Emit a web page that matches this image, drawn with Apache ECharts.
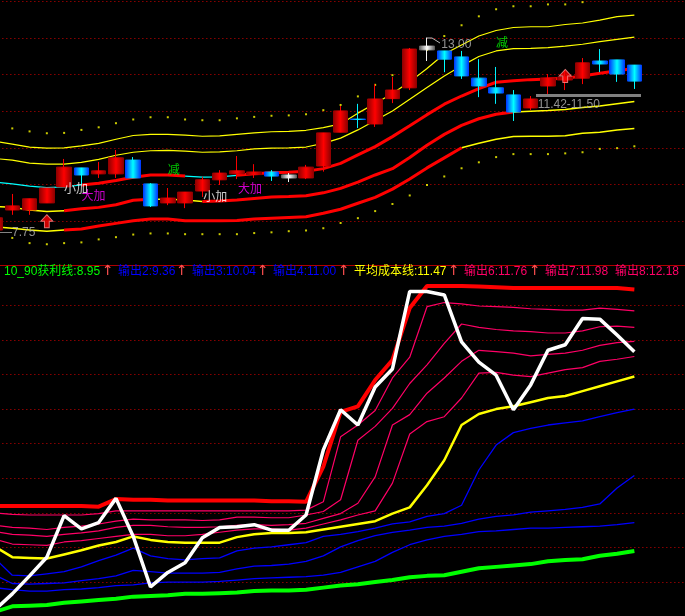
<!DOCTYPE html>
<html><head><meta charset="utf-8">
<style>html,body{margin:0;padding:0;background:#000}#c{width:685px;height:616px}</style>
<script src="https://cdn.jsdelivr.net/npm/echarts@6/dist/echarts.min.js"></script>
</head><body><div id="c"></div>
<script>
// ---- price panel ----
const opens =[7.83,8.37,8.37,8.56,8.99,9.50,9.34,9.34,9.71,9.07,8.56,8.56,8.88,9.18,9.34,9.32,9.39,9.31,9.23,9.55,10.46,10.81,10.68,11.36,11.65,12.67,12.64,12.48,11.91,11.65,11.46,11.11,11.70,11.86,11.91,12.37,12.40,12.26];
const closes=[8.16,8.48,8.67,8.96,9.52,9.31,9.42,9.77,9.23,8.48,8.69,8.85,9.18,9.36,9.42,9.39,9.28,9.23,9.52,10.44,11.03,10.80,11.35,11.59,12.69,12.77,12.42,11.97,11.70,11.51,11.00,11.35,11.91,11.94,12.32,12.29,12.02,11.83];
const lows  =[7.75,8.24,8.24,8.56,8.99,9.04,9.23,9.23,9.23,8.45,8.50,8.42,8.72,9.04,9.20,9.23,9.15,9.12,9.20,9.40,10.46,10.57,10.60,11.24,11.59,12.37,12.07,11.89,11.40,11.22,10.76,11.05,11.48,11.59,11.75,12.07,11.81,11.62];
const highs =[8.21,8.80,8.67,8.96,9.74,9.50,9.66,9.98,9.79,9.09,8.96,8.85,9.26,9.44,9.82,9.60,9.44,9.36,9.58,10.44,11.16,11.22,11.75,11.94,12.72,13.00,12.64,12.64,12.42,12.21,11.59,11.43,12.02,12.13,12.45,12.69,12.40,12.26];
const bandA=[10.21,10.14,10.06,10.03,10.04,10.09,10.16,10.27,10.37,10.40,10.40,10.38,10.35,10.36,10.40,10.44,10.47,10.48,10.51,10.58,10.68,10.97,11.23,11.50,11.81,12.17,12.56,12.80,13.04,13.19,13.27,13.29,13.29,13.35,13.39,13.47,13.56,13.60];
const bandB=[9.75,9.71,9.63,9.60,9.60,9.65,9.73,9.84,9.92,9.96,9.97,9.95,9.92,9.93,9.96,10.01,10.03,10.04,10.06,10.16,10.30,10.52,10.77,11.03,11.34,11.66,11.97,12.24,12.49,12.64,12.70,12.71,12.73,12.77,12.82,12.89,12.95,13.01];
const bandC=[9.12,9.07,9.01,8.97,8.99,9.04,9.09,9.16,9.25,9.31,9.31,9.28,9.25,9.26,9.30,9.34,9.37,9.38,9.41,9.48,9.62,9.85,10.07,10.34,10.63,10.93,11.21,11.43,11.63,11.80,11.84,11.87,11.89,11.91,11.97,12.04,12.11,12.17];
const bandD=[8.46,8.44,8.37,8.33,8.35,8.40,8.44,8.51,8.63,8.66,8.66,8.64,8.60,8.61,8.64,8.68,8.72,8.73,8.75,8.83,8.95,9.12,9.31,9.48,9.78,10.11,10.40,10.64,10.82,10.94,11.00,11.02,11.04,11.07,11.12,11.16,11.22,11.28];
const bandE=[7.92,7.88,7.83,7.80,7.83,7.86,7.94,8.01,8.08,8.13,8.13,8.08,8.08,8.08,8.09,8.13,8.15,8.17,8.19,8.28,8.39,8.55,8.71,8.93,9.20,9.50,9.77,10.04,10.16,10.27,10.34,10.35,10.35,10.36,10.43,10.46,10.52,10.56];
const dotsUp=[null,10.56,10.48,10.43,10.44,10.52,10.59,10.70,10.80,10.86,10.86,10.80,10.78,10.78,10.83,10.87,10.90,10.91,10.94,11.05,11.19,11.42,11.73,11.99,12.29,12.67,13.04,13.33,13.57,13.76,13.84,13.84,13.89,13.89,13.95,null,null,null];
const dotsDn=[null,7.62,7.48,7.45,7.48,7.50,7.58,7.64,7.71,7.74,7.74,7.72,7.72,7.72,7.72,7.75,7.77,7.80,7.82,7.88,8.02,8.15,8.34,8.53,8.76,9.04,9.27,9.49,9.65,9.79,9.87,9.87,9.87,9.89,9.92,10.01,10.03,10.08];
const annoIdx  =[4,5,10,12,14,29,26,0,31];
const annoPrice=[8.91,8.72,9.42,8.69,8.91,12.83,12.80,7.75,11.19];
const annoText =['小加','大加','减','小加','大加','减','13.00','—7.75','11.42-11.50'];
const annoColor=['#ffffff','#ff00ff','#00ff00','#ffffff','#ff00ff','#00ff00','#b8b8b8','#b8b8b8','#b8b8b8'];
const annoGap  =[0,0,0,1,1,0,-3,5,7];
const arrowIdx=[3,33], arrowPrice=[8.07,11.97];
// ---- indicator panel ----
const profit10=[8.07,8.15,8.16,8.17,8.20,8.22,8.24,8.26,8.29,8.30,8.31,8.33,8.33,8.34,8.35,8.37,8.38,8.38,8.39,8.42,8.45,8.47,8.50,8.53,8.57,8.59,8.60,8.65,8.70,8.72,8.74,8.76,8.80,8.82,8.83,8.88,8.91,8.95];
const out2=[8.42,8.39,8.37,8.37,8.39,8.40,8.42,8.45,8.46,8.49,8.50,8.50,8.50,8.51,8.53,8.55,8.56,8.57,8.58,8.60,8.64,8.72,8.80,8.93,9.04,9.11,9.16,9.19,9.23,9.24,9.26,9.28,9.28,9.29,9.30,9.31,9.33,9.36];
const out3=[8.60,8.48,8.47,8.48,8.49,8.52,8.55,8.59,8.67,8.65,8.63,8.63,8.63,8.64,8.69,8.73,8.74,8.76,8.80,8.88,9.01,9.10,9.17,9.22,9.25,9.29,9.31,9.35,9.41,9.45,9.47,9.51,9.53,9.55,9.58,9.63,9.86,10.04];
const out4=[8.84,8.60,8.59,8.62,8.65,8.72,8.81,8.89,8.99,8.88,8.84,8.82,8.84,8.85,8.95,8.99,9.01,9.04,9.07,9.16,9.19,9.23,9.28,9.34,9.37,9.45,9.49,9.61,10.12,10.48,10.66,10.72,10.77,10.80,10.83,10.89,10.95,11.00];
const avgCost=[9.01,8.86,8.85,8.84,8.90,8.96,9.03,9.08,9.16,9.11,9.08,9.07,9.07,9.07,9.15,9.19,9.21,9.21,9.22,9.26,9.30,9.34,9.38,9.49,9.58,9.90,10.26,10.77,10.93,11.00,11.04,11.10,11.16,11.19,11.26,11.33,11.40,11.47];
const out6=[9.12,9.05,9.04,9.03,9.08,9.10,9.13,9.16,9.19,9.19,9.17,9.17,9.19,9.22,9.25,9.27,9.27,9.25,9.28,9.34,9.40,9.47,9.53,9.93,10.64,10.82,10.89,11.16,11.52,11.53,11.49,11.47,11.52,11.57,11.60,11.69,11.72,11.76];
const out7=[9.23,9.19,9.18,9.16,9.19,9.21,9.24,9.29,9.32,9.32,9.30,9.29,9.29,9.30,9.32,9.33,9.32,9.33,9.35,9.42,9.49,9.64,10.02,10.77,10.92,11.23,11.45,11.69,11.85,11.83,11.81,11.77,11.79,11.81,11.85,11.92,11.96,11.98];
const out8=[9.32,9.29,9.28,9.26,9.29,9.31,9.34,9.38,9.41,9.40,9.40,9.40,9.39,9.40,9.44,9.44,9.43,9.43,9.47,9.52,9.69,10.55,10.75,11.01,11.37,11.64,11.95,12.23,12.18,12.15,12.13,12.12,12.10,12.10,12.13,12.19,12.20,12.18];
const out9=[9.50,9.48,9.47,9.47,9.47,9.47,9.49,9.53,9.53,9.53,9.53,9.53,9.53,9.53,9.53,9.53,9.53,9.53,9.54,9.66,10.60,10.77,10.98,11.45,11.75,12.48,12.54,12.52,12.49,12.48,12.47,12.45,12.44,12.43,12.43,12.46,12.44,12.42];
const out10=[9.60,9.60,9.60,9.60,9.60,9.60,9.59,9.70,9.69,9.69,9.68,9.68,9.68,9.68,9.68,9.68,9.67,9.67,9.66,10.17,10.96,11.04,11.42,11.71,12.46,12.78,12.78,12.78,12.77,12.76,12.75,12.75,12.75,12.75,12.75,12.75,12.75,12.73];
const mainLine=[8.10,8.33,8.59,8.86,9.46,9.27,9.36,9.71,9.16,8.43,8.64,8.78,9.14,9.29,9.30,9.33,9.25,9.25,9.47,10.41,10.99,10.77,11.32,11.58,12.70,12.70,12.65,11.97,11.68,11.49,10.99,11.35,11.85,11.93,12.31,12.30,12.07,11.83];
const headLabels=['10_90获利线:8.95','输出2:9.36','输出3:10.04','输出4:11.00','平均成本线:11.47','输出6:11.76','输出7:11.98','输出8:12.18'];
const headColors=['#00ff00','#0000ff','#0000ff','#0000ff','#ffff00','#ff0066','#ff0066','#ff0066'];
const headX=[4,118,192,273,354,464,545,615];
const headArrowX=[106,180,261,342,452,533];
const slotCount=41;
const categories=Array.from({length:slotCount},(_,i)=>String(i));

const G=echarts.graphic.LinearGradient;
const hGrad=(e,m)=>new G(0,0,1,0,[{offset:0,color:e},{offset:.5,color:m},{offset:1,color:e}]);
const RED=hGrad('#8a0000','#ff0000'), BLUE=hGrad('#0030ff','#00ffff'), WHITE=hGrad('#555555','#ffffff');
const WHITE_IDX=[17,25];
const pick=(arr,ranges)=>arr.map((v,i)=>ranges.some(r=>i>=r[0]&&i<=r[1])?v:null);
const line=(name,data,color,width,gi,z)=>({name,type:'line',data,xAxisIndex:gi,yAxisIndex:gi,showSymbol:false,symbol:'none',
  lineStyle:{color,width},itemStyle:{color},z:z||3,animation:false,silent:true,connectNulls:false});
const TOPGRID=0,BOT=2;
const Y='#ffff00',R='#ff0000',CY='#00ffff',PK='#ff0066',BL='#0000ff';

const candleData=opens.map((o,i)=>{
  const d={value:[o,closes[i],lows[i],highs[i]]};
  if(WHITE_IDX.includes(i)) d.itemStyle={color:WHITE,color0:WHITE,borderColor:WHITE,borderColor0:WHITE,borderColorDoji:WHITE};
  return d;
});
const hiddenY=(o)=>Object.assign({type:'value',axisLine:{show:false},axisTick:{show:false},axisLabel:{show:false},splitLine:{show:false}},o);
const dotted={show:true,showMinLine:false,showMaxLine:false,lineStyle:{color:'#d00000',width:1,type:[1,3]}};

const texts=[];
headLabels.forEach((t,i)=>texts.push({type:'text',left:headX[i],top:266,z:10,style:{text:t,fill:headColors[i],font:'12px "Liberation Sans","Noto Sans CJK SC"'}}));
headArrowX.forEach(x=>texts.push({type:'text',left:x-4,top:264,z:10,style:{text:'↑',fill:'#ff5050',font:'14px "DejaVu Sans"'}}));

const chart=echarts.init(document.getElementById('c'),null,{renderer:'canvas'});
chart.setOption({
  backgroundColor:'#000',animation:false,
  grid:[
    {left:-13.64,width:708.48,top:0.3,height:260.7,outerBoundsMode:'none'},
    {left:-13.64,width:708.48,top:1.3,height:256.7,outerBoundsMode:'none'},
    {left:-13.64,width:708.48,top:270.7,height:346,outerBoundsMode:'none'}
  ],
  xAxis:[0,1,2].map(g=>({type:'category',gridIndex:g,data:categories,show:false,boundaryGap:true})),
  yAxis:[
    hiddenY({gridIndex:0,min:7,max:14}),
    hiddenY({gridIndex:1,min:0,max:7,interval:1,splitLine:Object.assign({},dotted,{showMaxLine:true})}),
    hiddenY({gridIndex:2,min:8,max:13,interval:.5,splitLine:dotted})
  ],
  graphic:[
    {type:'rect',shape:{x:0,y:265,width:685,height:1},style:{fill:'#b00000'},z:9},
    {type:'rect',shape:{x:536,y:94,width:105,height:3},style:{fill:'#808080'},z:9},
    {type:'polyline',shape:{points:[[427,38],[432,38],[440,43]]},style:{stroke:'#b8b8b8',fill:null,lineWidth:1},z:9}
  ].concat(texts),
  series:[
    line('A',bandA,Y,1.2,TOPGRID),
    line('B',bandB,Y,1.2,TOPGRID),
    line('C-a',pick(bandC,[[0,5],[11,14]]),CY,1.2,TOPGRID),
    line('C-b',pick(bandC,[[5,11],[14,37]]),R,3,TOPGRID),
    line('D-a',pick(bandD,[[0,4],[9,12],[30,37]]),Y,1.5,TOPGRID),
    line('D-b',pick(bandD,[[4,9],[12,30]]),R,3,TOPGRID),
    line('E-a',pick(bandE,[[0,4],[27,37]]),Y,1.5,TOPGRID),
    line('E-b',pick(bandE,[[4,27]]),R,3,TOPGRID),
    {name:'dotsUp',type:'scatter',data:dotsUp,xAxisIndex:0,yAxisIndex:0,symbol:'rect',symbolSize:2,itemStyle:{color:Y},z:3,silent:true},
    {name:'dotsDn',type:'scatter',data:dotsDn,xAxisIndex:0,yAxisIndex:0,symbol:'rect',symbolSize:2,itemStyle:{color:Y},z:3,silent:true},
    {name:'K',type:'candlestick',data:candleData,xAxisIndex:0,yAxisIndex:0,barWidth:15,z:4,silent:true,
      itemStyle:{color:RED,color0:BLUE,borderColor:RED,borderColor0:BLUE,borderColorDoji:BLUE,borderWidth:1}},
    {name:'arrows',type:'scatter',data:arrowIdx.map((x,i)=>[x,arrowPrice[i]]),xAxisIndex:0,yAxisIndex:0,z:5,silent:true,
      symbol:'path://M5 0 L10 6 L7 6 L7 12 L3 12 L3 6 L0 6 Z',symbolSize:[12,13],
      itemStyle:{color:'#ff0000',borderColor:'#ff9090',borderWidth:1}},
    {name:'anno',type:'scatter',xAxisIndex:0,yAxisIndex:0,z:6,silent:true,symbolSize:0,itemStyle:{color:'transparent'},
      data:annoIdx.map((x,i)=>({value:[x,annoPrice[i]],
        label:{show:true,position:'right',distance:annoGap[i],formatter:annoText[i],color:annoColor[i],fontSize:12,
          fontFamily:'"Liberation Sans","Noto Sans CJK SC"'}}))},
    line('输出2',out2,BL,1.3,BOT),
    line('输出3',out3,BL,1.3,BOT),
    line('输出4',out4,BL,1.3,BOT),
    line('输出6',out6,PK,1.2,BOT),
    line('输出7',out7,PK,1.2,BOT),
    line('输出8',out8,PK,1.2,BOT),
    line('输出9',out9,PK,1.2,BOT),
    line('输出10',out10,R,4,BOT,4),
    line('平均成本线',avgCost,Y,2.5,BOT,4),
    line('10_90获利线',profit10,'#00ff00',4,BOT,4),
    line('主线',mainLine,'#ffffff',3.5,BOT,5)
  ]
});
</script></body></html>
